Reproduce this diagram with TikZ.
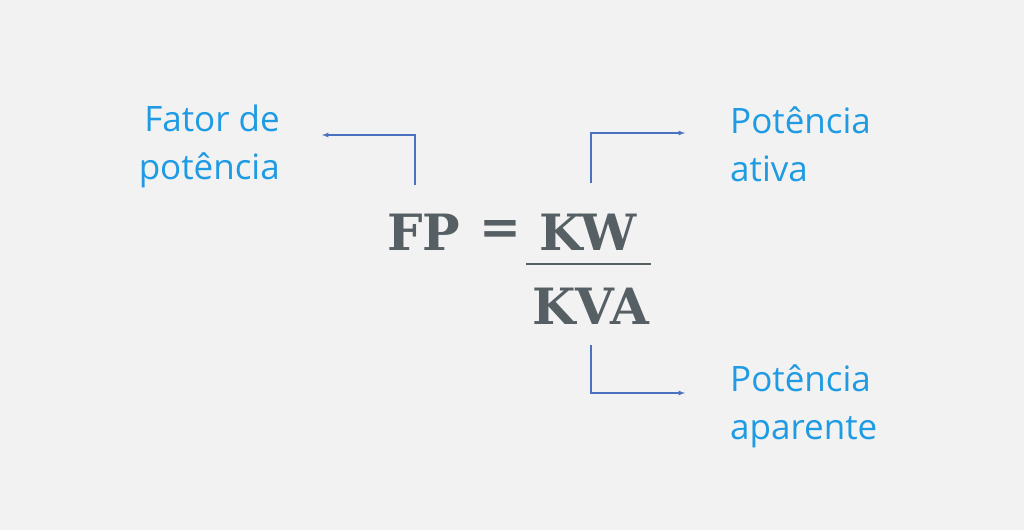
\documentclass[tikz,border=0pt]{standalone}
\usepackage{fontspec}
\setmainfont{Open Sans}
\newfontfamily\slab{DejaVu Serif}
\definecolor{bg}{HTML}{F2F2F2}
\definecolor{lbl}{HTML}{1E9BE2}
\definecolor{arr}{HTML}{4A72C0}
\definecolor{dark}{HTML}{566064}
\begin{document}
\begin{tikzpicture}[x=1pt,y=-1pt,
  lab/.style={text=lbl,font=\fontsize{35}{48}\selectfont,align=left,inner sep=0},
  big/.style={text=dark,font=\slab\bfseries\fontsize{50}{50}\selectfont,inner sep=0},
  conn/.style={draw=arr,line width=1.2pt,-latex}]
\fill[bg] (0,0) rectangle (1024,530);
\useasboundingbox (0,0) rectangle (1024,530);
\node[lab,align=right,anchor=east] (fp) at (280,146) {Fator de\\potência};
\node[lab,anchor=west] (pa) at (730,144) {Potência\\ativa};
\node[lab,anchor=west] (pap) at (730,406) {Potência\\aparente};
\node[big] (f) at (424,232) {FP};
\node[big] (eq) at (500,232) {=};
\node[big] (kw) at (588,232) {KW};
\node[big] (kva) at (591,306) {KVA};
\draw[draw=dark,line width=2.5pt] (526,264) -- (651,264);
\coordinate (a1) at (415,185); \coordinate (a1e) at (322,135);
\coordinate (a2) at (591,183); \coordinate (a2e) at (685,133);
\coordinate (a3) at (591,345); \coordinate (a3e) at (685,393);
\draw[conn] (a1) |- (a1e);
\draw[conn] (a2) |- (a2e);
\draw[conn] (a3) |- (a3e);
\end{tikzpicture}
\end{document}
